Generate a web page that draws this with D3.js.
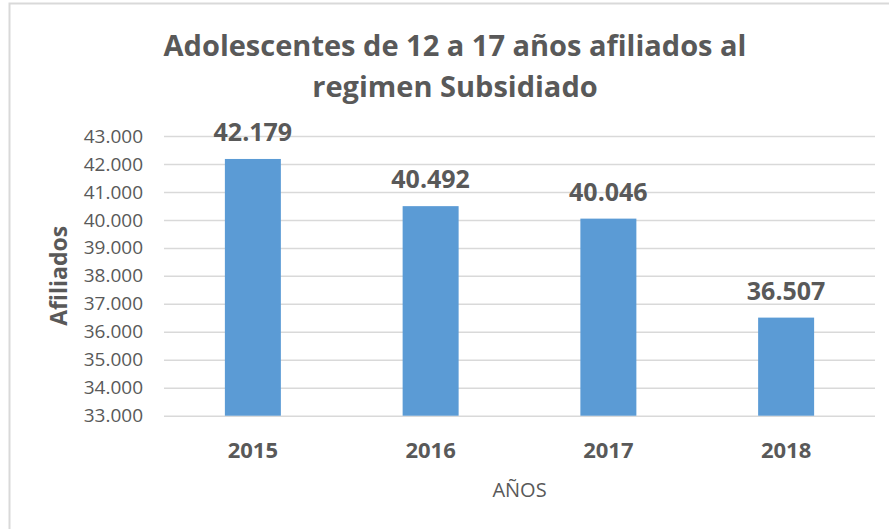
<!DOCTYPE html>
<html>
<head>
<meta charset="utf-8">
<script src="https://cdn.jsdelivr.net/npm/d3@7"></script>
<style>
  body { margin: 0; background: #fff; }
  svg text { font-family: "Open Sans", "DejaVu Sans", sans-serif; fill: #595959; }
  .axis path { display: none; }
  .axis line { stroke: #d9d9d9; stroke-width: 1.5; }
</style>
</head>
<body>
<div id="chart"></div>
<script>
// Data
var years = ["2015", "2016", "2017", "2018"];
var afiliados = [42179, 40492, 40046, 36507];
var yTicks = [33000, 34000, 35000, 36000, 37000, 38000, 39000, 40000, 41000, 42000, 43000];

var titleLines = ["Adolescentes de 12 a 17 años afiliados al", "regimen Subsidiado"];

// Chart dimensions
var width = 889, height = 529;
var plot = {left: 164, right: 875, top: 136, bottom: 415.7};

var svg = d3.select("#chart").append("svg")
    .attr("width", width)
    .attr("height", height);

// chart area border (runs off the right and bottom)
svg.append("rect")
    .attr("x", 9.5)
    .attr("y", 3.5)
    .attr("width", 900)
    .attr("height", 540)
    .attr("fill", "#fff")
    .attr("stroke", "#d9d9d9")
    .attr("stroke-width", 2);

var es = d3.formatLocale({decimal: ",", thousands: ".", grouping: [3], currency: ["$", ""]});
var fmt = es.format(",d");

// Scales
var xScale = d3.scaleBand()
    .domain(years)
    .range([plot.left, plot.right])
    .paddingInner(0.685)
    .paddingOuter(0.3425);
var yScale = d3.scaleLinear()
    .domain([33000, 43000])
    .range([plot.bottom, plot.top]);

// gridlines + y labels
var yAxis = d3.axisLeft(yScale)
    .tickValues(yTicks)
    .tickSize(-(plot.right - plot.left))
    .tickPadding(21)
    .tickFormat(fmt);

var gy = svg.append("g")
    .attr("class", "axis")
    .attr("transform", "translate(" + plot.left + ",0)")
    .call(yAxis);
gy.selectAll("text")
    .style("font-size", "19px")
    .attr("fill", "#595959");

// Bars
var data = years.map(function(y, i) { return {year: y, value: afiliados[i]}; });

svg.selectAll(".bar")
    .data(data)
    .enter()
    .append("rect")
    .attr("class", "bar")
    .attr("x", function(d) { return xScale(d.year); })
    .attr("y", function(d) { return yScale(d.value); })
    .attr("width", xScale.bandwidth())
    .attr("height", function(d) { return yScale(33000) - yScale(d.value); })
    .attr("fill", "#5b9bd5");

// value labels
svg.selectAll(".val")
    .data(data)
    .enter()
    .append("text")
    .attr("class", "val")
    .attr("x", function(d) { return xScale(d.year) + xScale.bandwidth() / 2; })
    .attr("y", function(d) { return yScale(d.value) - 18; })
    .attr("text-anchor", "middle")
    .style("font-size", "25px")
    .style("font-weight", "bold")
    .text(function(d) { return fmt(d.value); });

// x category labels
svg.selectAll(".xlab")
    .data(years)
    .enter()
    .append("text")
    .attr("class", "xlab")
    .attr("x", function(d) { return xScale(d) + xScale.bandwidth() / 2; })
    .attr("y", 458)
    .attr("text-anchor", "middle")
    .style("font-size", "22px")
    .style("font-weight", "bold")
    .text(function(d) { return d; });

// axis titles
svg.append("text")
    .attr("x", (plot.left + plot.right) / 2)
    .attr("y", 497)
    .attr("text-anchor", "middle")
    .style("font-size", "20px")
    .text("AÑOS");

svg.append("text")
    .attr("transform", "translate(67," + ((plot.top + plot.bottom) / 2) + ") rotate(-90)")
    .attr("text-anchor", "middle")
    .style("font-size", "23px")
    .style("font-weight", "bold")
    .text("Afiliados");

// Title
svg.selectAll(".title")
    .data(titleLines)
    .enter()
    .append("text")
    .attr("class", "title")
    .attr("x", 455)
    .attr("y", function(d, i) { return 56 + i * 41; })
    .attr("text-anchor", "middle")
    .style("font-size", "29px")
    .style("font-weight", "bold")
    .text(function(d) { return d; });
</script>
</body>
</html>
